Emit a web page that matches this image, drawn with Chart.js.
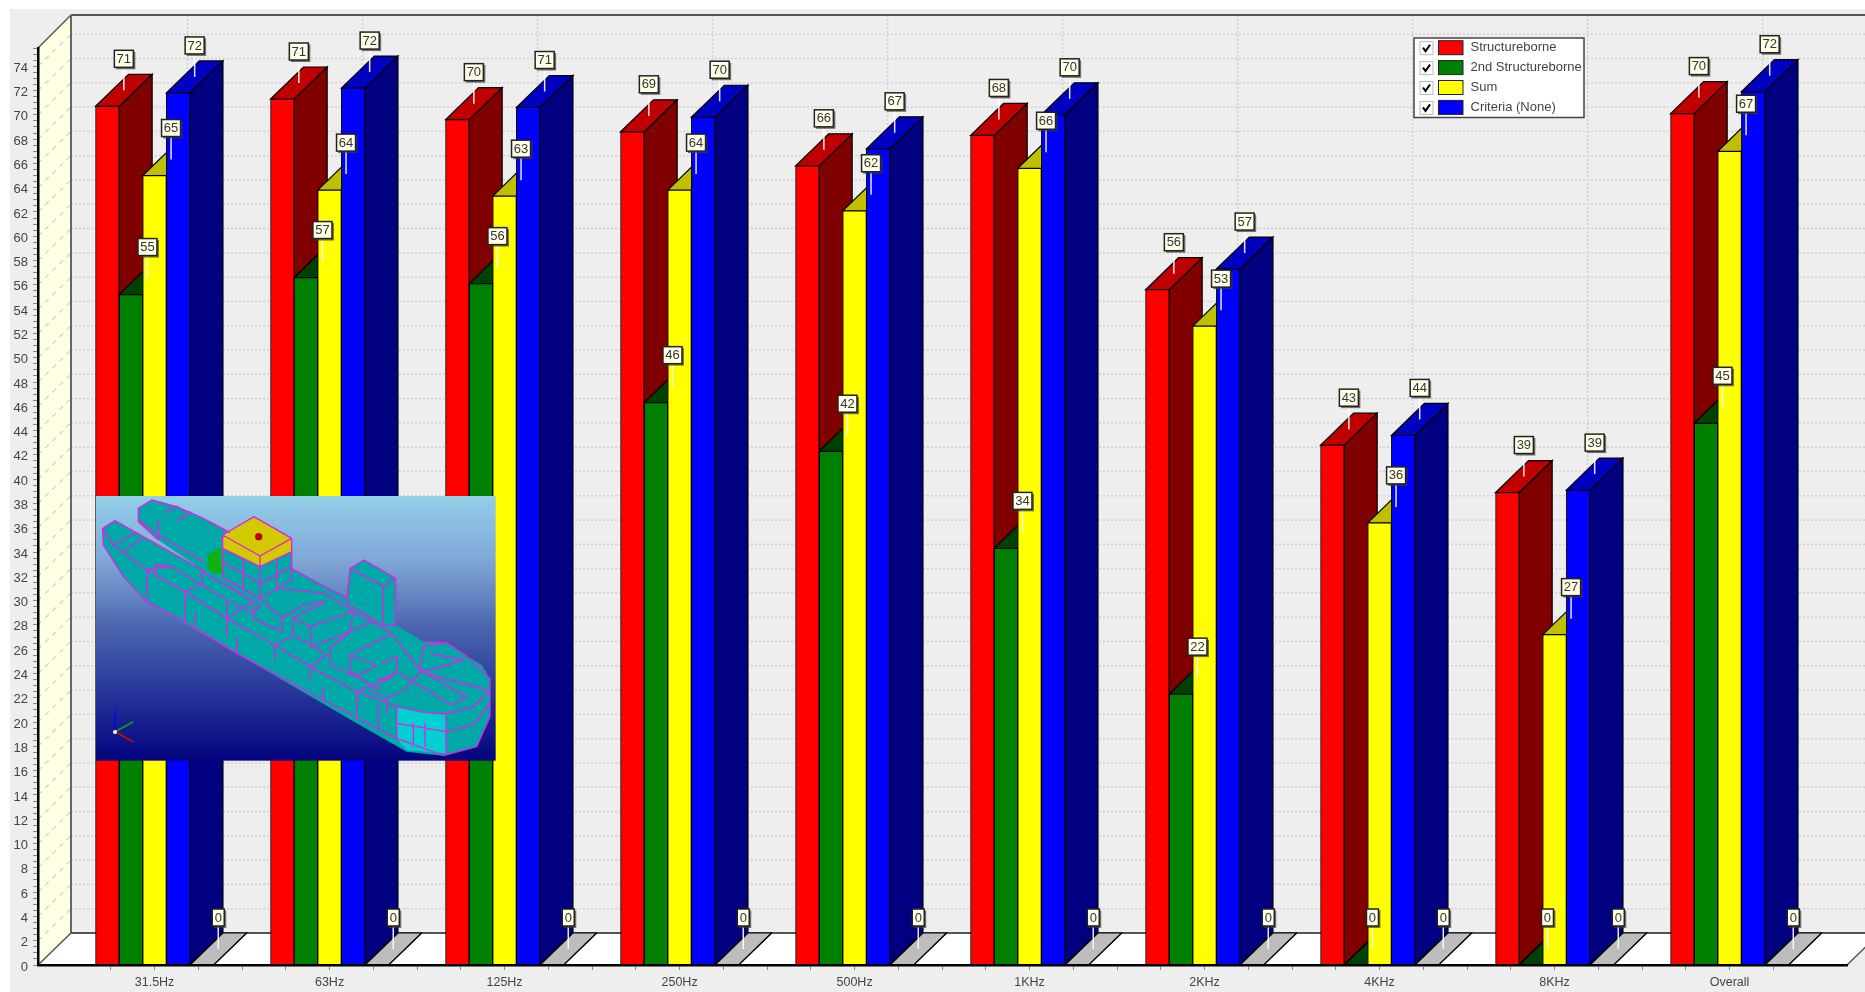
<!DOCTYPE html>
<html>
<head>
<meta charset="utf-8">
<title>Structureborne noise by octave band</title>
<script src="https://cdn.jsdelivr.net/npm/chart.js@4"></script>
<style>
  html, body { margin: 0; padding: 0; background: #fff; overflow: hidden; }
  #stage { position: relative; width: 1865px; height: 992px; filter: blur(0.45px); }
  #chartCanvas { position: absolute; left: 0; top: 0; }
  #ship { position: absolute; left: 90px; top: 490px; }
</style>
</head>
<body>
<div id="stage">
  <canvas id="chartCanvas" width="1865" height="992"></canvas>
  <!-- inset model picture, viewBox is 3x its pixel box so it lines up with a zoomed crop -->
  <svg id="ship" width="420" height="280" viewBox="0 0 1260 840">
    <defs>
      <linearGradient id="sky" x1="0" y1="0" x2="0" y2="1">
        <stop offset="0" stop-color="#93CFE9"/>
        <stop offset="0.25" stop-color="#7FA6D6"/>
        <stop offset="0.5" stop-color="#4A64AE"/>
        <stop offset="0.75" stop-color="#26349A"/>
        <stop offset="1" stop-color="#04047E"/>
      </linearGradient>
    </defs>
    <rect x="18" y="18" width="1199" height="794" fill="url(#sky)"/>
    <path fill="#00A8A8" d="M38 115 L75 92 L345 245 L205 150 L145 95 L145 55 L185 30 L260 50 L340 85 L420 128 L605 235 L770 320 L780 235 L822 210 L917 265 L917 405 L1000 455 L1070 458 L1125 495 L1175 525 L1200 565 L1200 680 L1160 770 L1060 797 L950 785 L800 700 L440 490 L170 335 L100 260 L40 165 Z"/>
    <path fill="#00D0D0" d="M920 650 L1000 668 L1068 672 L1068 790 L950 780 L920 745 Z"/>
    <path fill="#10B010" d="M352 195 L392 172 L396 250 L372 250 L352 235 Z"/>
    <path fill="#00A8A8" d="M398 175 L510 230 L510 325 L398 262 Z M510 230 L605 185 L605 270 L510 325 Z"/>
    <path fill="#D2CA00" d="M398 135 L492 80 L605 145 L510 198 Z M398 135 L510 198 L510 230 L398 175 Z M510 198 L605 145 L605 185 L510 230 Z"/>
    <circle cx="506" cy="140" r="11" fill="#C00000"/>
    <path fill="none" stroke="#E41FE4" stroke-width="4" stroke-linejoin="round" d="
      M38 115 L75 92 L345 245 M205 150 L145 95 L145 55 L185 30 L260 50 L340 85 L420 128
      M145 90 L205 135 L340 215 M205 90 L205 150 M222 68 L265 48 M262 92 L302 65
      M38 115 L70 165 L170 240 L285 305 L410 385 L555 465 L660 530 L800 605 L920 650 L1000 667 L1070 672 L1150 650 L1200 600
      M38 115 L40 165 L100 260 L170 335 L285 395 L440 490 L700 630 L920 745 L1060 797 L1160 770 L1200 680 L1200 565 L1125 495 L1070 458 L1000 455
      M920 700 L1070 725 L1150 705 L1200 640 M920 650 L920 745 M1068 672 L1068 795 M970 700 L970 770 M1005 700 L1005 770
      M170 240 L170 335 M285 305 L285 395 M410 385 L410 440 M555 465 L555 510 M660 530 L660 575 M800 605 L800 685 M315 370 L315 410 M440 440 L440 490 M700 590 L700 630 M865 640 L865 710
      M170 240 L245 228 M70 165 L135 130 M95 190 L155 145 M195 262 L195 225 L240 228 L335 285 L285 305
      M335 245 L335 285 M335 245 L510 345 M410 285 L510 345 L490 370 L410 330 M335 285 L410 330 L410 385 L490 335
      M490 345 L490 385 L575 425 L575 385 L640 345 M575 385 L510 325 M410 385 L490 335
      M555 465 L610 435 L610 385 L705 335 L640 345 M610 435 L710 495 L660 530 M610 385 L660 410 L790 365 L705 310 L560 295
      M660 410 L665 470 L780 425 L790 365 L845 395 L780 425 L720 475 L720 525 L800 560 L860 525 L780 495 L905 430 L845 395
      M780 495 L780 545 L865 600 L865 570 L910 560 L800 605 M835 600 L890 625 L945 600 L990 545 M890 625 L890 670
      M905 430 L990 540 L1000 470 L1070 458 M1020 490 L1120 510 L1020 540 L990 545 L1190 600
      M875 520 L920 500 L920 545 L1085 645 L1130 622 L990 540 M920 545 L885 565
      M605 235 L700 290 L770 325 M770 340 L880 405 L917 405
      M398 135 L492 80 L605 145 L510 198 Z M398 135 L398 262 L510 325 L605 270 L605 145 M510 198 L510 325 M398 175 L510 230 L605 185 M398 215 L510 280 L605 230 M460 205 L460 295 M560 215 L560 295
      M780 235 L822 210 L917 265 L880 288 Z M780 235 L770 340 M880 288 L880 405 M917 265 L917 405"/>
    <path fill="none" stroke-width="5" stroke="#0A0AD8" d="M75 725 L75 660"/>
    <path fill="none" stroke-width="5" stroke="#12A012" d="M75 725 L130 695"/>
    <path fill="none" stroke-width="5" stroke="#C01010" d="M75 725 L130 755"/>
    <circle cx="75" cy="726" r="6" fill="#fff"/>
  </svg>
</div>

<script>
// ── Data ──
var bandLabels = ['31.5Hz', '63Hz', '125Hz', '250Hz', '500Hz', '1KHz', '2KHz', '4KHz', '8KHz', 'Overall'];
var structureborne = [70.7, 71.3, 69.6, 68.6, 65.8, 68.3, 55.6, 42.8, 38.9, 70.1];
var secondStructureborne = [55.2, 56.6, 56.1, 46.3, 42.3, 34.3, 22.3, 0, 0, 44.6];
var sumValues = [65, 63.8, 63.3, 63.8, 62.1, 65.6, 52.6, 36.4, 27.2, 67];
var criteriaValues = [71.8, 72.2, 70.6, 69.8, 67.2, 70, 57.3, 43.6, 39.1, 71.9];
var emptySeries = [0, 0, 0, 0, 0, 0, 0, 0, 0, 0];

var seriesNames = ['Structureborne', '2nd Structureborne', 'Sum', 'Criteria (None)'];
var frontColors = ['#FF0000', '#008000', '#FFFF00', '#0000FF', '#C0C0C0'];
var topColors = ['#C00000', '#004000', '#C0C000', '#0000C0', '#BDBDBD'];
var sideColors = ['#800000', '#004000', '#808000', '#000080', '#808080'];

// ── 3D look ──
var DEPTH_X = 33;
var DEPTH_Y = 32;
var TOP_WALL_Y = 15;
var GRID_COLOR = '#D0D0D0';
var TEXT_COLOR = '#444';
var FONT = '"Liberation Sans", Arial, sans-serif';

function polygon(ctx, pts, fill, stroke) {
  ctx.beginPath();
  ctx.moveTo(pts[0][0], pts[0][1]);
  for (var i = 1; i < pts.length; i++) ctx.lineTo(pts[i][0], pts[i][1]);
  ctx.closePath();
  if (fill) { ctx.fillStyle = fill; ctx.fill(); }
  if (stroke) { ctx.strokeStyle = stroke; ctx.lineWidth = 1.2; ctx.stroke(); }
}

function line(ctx, x1, y1, x2, y2, color, width, dash) {
  ctx.save();
  ctx.beginPath();
  ctx.setLineDash(dash || []);
  ctx.moveTo(x1, y1);
  ctx.lineTo(x2, y2);
  ctx.strokeStyle = color;
  ctx.lineWidth = width;
  ctx.stroke();
  ctx.restore();
}

// ── Walls and floor, behind everything ──
var wallsPlugin = {
  id: 'walls',
  beforeDraw: function (chart) {
    var ctx = chart.ctx;
    var area = chart.chartArea;
    var yScale = chart.scales.y;
    var xScale = chart.scales.x;
    var backLeft = area.left + DEPTH_X;
    var backFloor = area.bottom - DEPTH_Y;

    ctx.save();
    ctx.fillStyle = '#fff';
    ctx.fillRect(0, 0, chart.width, chart.height);
    ctx.fillStyle = '#EEEEEE';
    ctx.fillRect(10, 9, chart.width - 10, chart.height - 9);

    // floor and left wall
    polygon(ctx, [[area.left, area.bottom], [area.right, area.bottom], [area.right + DEPTH_X, backFloor], [backLeft, backFloor]], '#fff');
    polygon(ctx, [[area.left, area.top], [backLeft, TOP_WALL_Y], [backLeft, backFloor], [area.left, area.bottom]], '#FFFFE4');

    // horizontal grid on the back wall, dashed across the left wall
    for (var v = 2; v <= 74; v += 2) {
      var y = yScale.getPixelForValue(v);
      line(ctx, backLeft, y - DEPTH_Y, chart.width, y - DEPTH_Y, GRID_COLOR, 1.5, [2, 2]);
      line(ctx, area.left, y, backLeft, y - DEPTH_Y, GRID_COLOR, 1.2, [5, 5]);
    }
    // vertical grid at each band
    bandLabels.forEach(function (label, i) {
      var x = xScale.getPixelForValue(i) + DEPTH_X;
      line(ctx, x, TOP_WALL_Y, x, backFloor, GRID_COLOR, 1.5, [2, 2]);
    });

    line(ctx, backLeft, TOP_WALL_Y, chart.width, TOP_WALL_Y, '#555', 2);
    line(ctx, area.left, area.top, backLeft, TOP_WALL_Y, '#555', 1.5);
    line(ctx, backLeft, TOP_WALL_Y, backLeft, backFloor, '#666', 2);
    line(ctx, backLeft, backFloor, chart.width, backFloor, '#555', 2);
    line(ctx, area.left, area.bottom, backLeft, backFloor, '#555', 1.5);
    line(ctx, area.right, area.bottom, area.right + DEPTH_X, backFloor, '#555', 1.5);
    ctx.restore();
  },

  // Painter's order: left series first, each one's faces and then its front,
  // so the next bar in the group covers the previous bar's side. Chart.js paints
  // datasets last-to-first by itself, that is why its own pass is cancelled below.
  beforeDatasetsDraw: function (chart) {
    var ctx = chart.ctx;
    chart.data.datasets.forEach(function (ds, k) {
      chart.getDatasetMeta(k).data.forEach(function (bar) {
        var left = bar.x - bar.width / 2;
        var right = bar.x + bar.width / 2;
        var top = bar.y;
        var bottom = bar.base;
        polygon(ctx, [[right, top], [right + DEPTH_X, top - DEPTH_Y], [right + DEPTH_X, bottom - DEPTH_Y], [right, bottom]], sideColors[k], '#000');
        polygon(ctx, [[left, top], [left + DEPTH_X, top - DEPTH_Y], [right + DEPTH_X, top - DEPTH_Y], [right, top]], topColors[k], '#000');
        bar.draw(ctx);
      });
    });
  },
  beforeDatasetDraw: function () { return false; },

  // value flags and the legend box stay on top of the bars
  afterDatasetsDraw: function (chart) {
    var ctx = chart.ctx;
    chart.data.datasets.forEach(function (ds, k) {
      chart.getDatasetMeta(k).data.forEach(function (bar, i) {
        drawFlag(ctx, bar.x + DEPTH_X / 2, bar.y - DEPTH_Y / 2, Math.round(ds.data[i].y));
      });
    });
    drawLegend(ctx);
  }
};

function drawFlag(ctx, x, y, value) {
  var text = String(value);
  var w = text.length > 1 ? 19 : 12;
  var h = 17;
  var boxBottom = y - 23;
  line(ctx, x, y, x, boxBottom, 'rgba(255,255,255,0.9)', 1.5);
  ctx.save();
  ctx.fillStyle = 'rgba(60,60,60,0.7)';
  ctx.fillRect(x - w / 2 + 1.5, boxBottom - h + 1.5, w + 0.5, h + 0.5);
  ctx.fillStyle = '#FFFFE8';
  ctx.strokeStyle = '#222';
  ctx.lineWidth = 1.5;
  ctx.fillRect(x - w / 2, boxBottom - h, w, h);
  ctx.strokeRect(x - w / 2, boxBottom - h, w, h);
  ctx.fillStyle = '#333';
  ctx.font = '13px ' + FONT;
  ctx.textAlign = 'center';
  ctx.textBaseline = 'middle';
  ctx.fillText(text, x, boxBottom - h / 2 + 0.5);
  ctx.restore();
}

function drawLegend(ctx) {
  ctx.save();
  ctx.fillStyle = '#fff';
  ctx.fillRect(1414, 38, 170, 79.5);
  ctx.strokeStyle = '#444';
  ctx.lineWidth = 1.5;
  ctx.strokeRect(1414, 38, 170, 79.5);
  seriesNames.forEach(function (name, i) {
    var cy = 47.7 + i * 19.9;
    ctx.fillStyle = '#fff';
    ctx.strokeStyle = '#BBB';
    ctx.lineWidth = 1;
    ctx.fillRect(1420, cy - 6, 13, 13);
    ctx.strokeRect(1420, cy - 6, 13, 13);
    // tick mark
    ctx.beginPath();
    ctx.moveTo(1423, cy);
    ctx.lineTo(1425.5, cy + 3.5);
    ctx.lineTo(1430, cy - 3);
    ctx.strokeStyle = '#000';
    ctx.lineWidth = 2;
    ctx.stroke();
    ctx.fillStyle = frontColors[i];
    ctx.fillRect(1438.5, cy - 7, 24.5, 14);
    ctx.strokeStyle = '#222';
    ctx.lineWidth = 1;
    ctx.strokeRect(1438.5, cy - 7, 24.5, 14);
    ctx.fillStyle = TEXT_COLOR;
    ctx.font = '13px ' + FONT;
    ctx.textAlign = 'left';
    ctx.textBaseline = 'middle';
    ctx.fillText(name, 1470.5, cy);
  });
  ctx.restore();
}

// ── Build chart ──
function toPoints(values) {
  return values.map(function (v, i) { return { x: i, y: v }; });
}

function makeDataset(label, values, k) {
  return {
    label: label,
    data: toPoints(values),
    backgroundColor: frontColors[k],
    borderColor: '#000',
    borderWidth: 1,
    barThickness: 23.6,
    barPercentage: 1
  };
}

new Chart(document.getElementById('chartCanvas').getContext('2d'), {
  type: 'bar',
  data: {
    datasets: [
      makeDataset(seriesNames[0], structureborne, 0),
      makeDataset(seriesNames[1], secondStructureborne, 1),
      makeDataset(seriesNames[2], sumValues, 2),
      makeDataset(seriesNames[3], criteriaValues, 3),
      makeDataset('', emptySeries, 4)
    ]
  },
  options: {
    responsive: false,
    animation: false,
    devicePixelRatio: 1,
    layout: { padding: { top: 48, right: 18, left: 0, bottom: 0 } },
    plugins: { legend: { display: false }, tooltip: { enabled: false }, title: { display: false } },
    scales: {
      x: {
        type: 'linear',
        offset: false,
        min: -0.666,
        max: 9.671,
        afterFit: function (scale) { scale.height = 27; },
        border: { color: '#000', width: 2.5, z: 1 },
        grid: {
          offset: false,
          drawOnChartArea: false,
          drawTicks: true,
          tickLength: 5,
          // the two bound ticks are only there to hold the range
          tickColor: function (c) {
            if (!c.tick) return '#888';
            var v = c.tick.value * 4;
            return Math.abs(v - Math.round(v)) < 0.001 ? '#888' : 'transparent';
          }
        },
        ticks: {
          stepSize: 0.25,
          autoSkip: false,
          maxRotation: 0,
          padding: 5,
          color: TEXT_COLOR,
          font: { family: FONT, size: 12.5 },
          callback: function (v) {
            var i = Math.round(v * 100) / 100;
            return Number.isInteger(i) ? bandLabels[i] : '';
          }
        }
      },
      y: {
        min: 0,
        max: 75.5,
        afterFit: function (scale) { scale.width = 38; },
        border: { color: '#000', width: 2.5 },
        grid: { drawOnChartArea: false, drawTicks: true, tickLength: 5, tickColor: '#888' },
        ticks: {
          stepSize: 0.5,
          autoSkip: false,
          padding: 5,
          labelOffset: 2,
          color: TEXT_COLOR,
          font: { family: FONT, size: 13 },
          callback: function (v) { return (v % 2 === 0 && v <= 74) ? v : ''; }
        }
      }
    }
  },
  plugins: [wallsPlugin]
});
</script>
</body>
</html>
